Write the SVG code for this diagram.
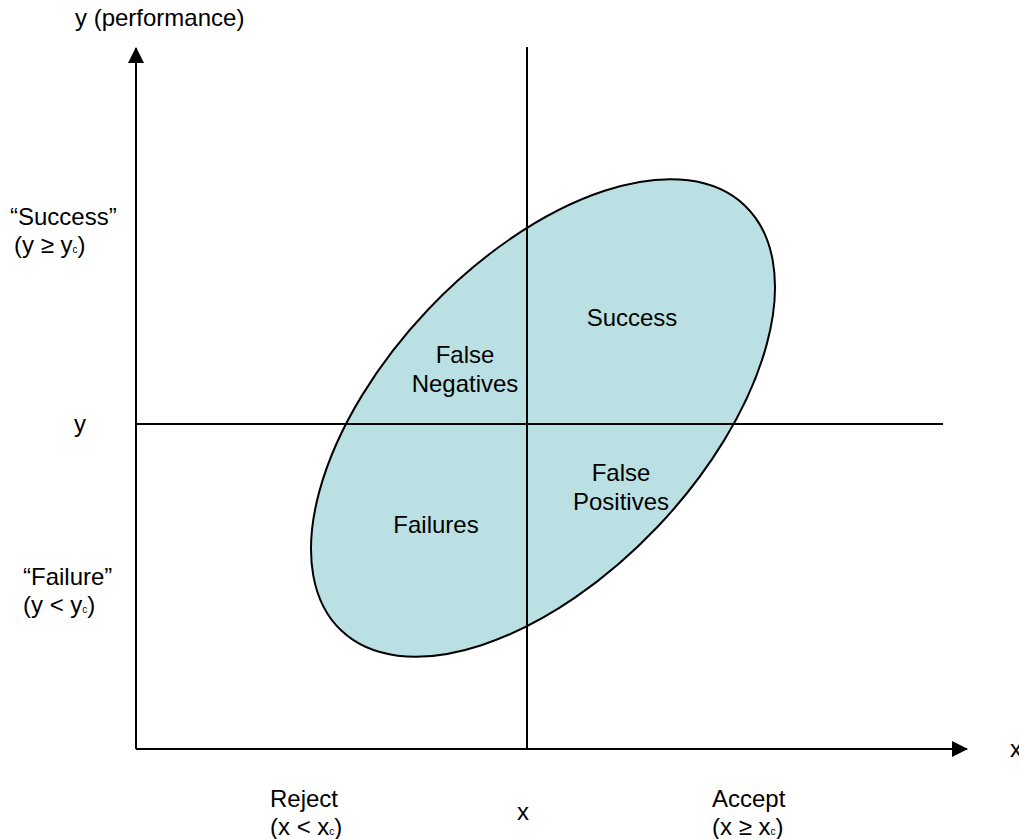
<svg xmlns="http://www.w3.org/2000/svg" width="1019" height="839" viewBox="0 0 1019 839">
<style>
text{font-family:"Liberation Sans",Arial,sans-serif;font-size:24px;fill:#000}
.sub{font-size:10px}
.ln{stroke:#000;stroke-width:2;fill:none}
.mid{text-anchor:middle}
</style>
<defs>
<marker id="arr" viewBox="0 0 16 16" refX="15" refY="8" markerWidth="16" markerHeight="16" markerUnits="userSpaceOnUse" orient="auto">
<path d="M0,0 L16,8 L0,16 Z" fill="#000"/>
</marker>
</defs>
<rect width="1019" height="839" fill="#fff"/>
<g id="ellipse">
<ellipse cx="543" cy="418" rx="293" ry="158" transform="rotate(-46.5 543 418)" fill="#BBE0E3" stroke="#000" stroke-width="2"/>
</g>
<g id="connectors">
<line class="ln" x1="136" y1="749" x2="136" y2="48" marker-end="url(#arr)"/>
<line class="ln" x1="136" y1="749" x2="967" y2="749" marker-end="url(#arr)"/>
<line class="ln" x1="527" y1="47" x2="527" y2="749"/>
<line class="ln" x1="136" y1="424" x2="943" y2="424"/>
</g>
<g id="axis-labels">
<text x="75" y="26">y (performance)</text>
<text x="1010" y="757">x</text>
<text x="74" y="432">y</text>
<text x="517" y="820">x</text>
</g>
<g id="success-label">
<text x="10" y="225">“Success”</text>
<text x="14" y="253">(y ≥ y<tspan class="sub">c</tspan>)</text>
</g>
<g id="failure-label">
<text x="23" y="585">“Failure”</text>
<text x="23" y="613">(y &lt; y<tspan class="sub">c</tspan>)</text>
</g>
<g id="reject-label">
<text x="270" y="807">Reject</text>
<text x="270" y="835">(x &lt; x<tspan class="sub">c</tspan>)</text>
</g>
<g id="accept-label">
<text x="712" y="807">Accept</text>
<text x="712" y="835">(x ≥ x<tspan class="sub">c</tspan>)</text>
</g>
<g id="success">
<text class="mid" x="632" y="326">Success</text>
</g>
<g id="false-negatives">
<text class="mid" x="465" y="363">False</text>
<text class="mid" x="465" y="392">Negatives</text>
</g>
<g id="failures">
<text class="mid" x="436" y="533">Failures</text>
</g>
<g id="false-positives">
<text class="mid" x="621" y="481">False</text>
<text class="mid" x="621" y="510">Positives</text>
</g>
</svg>
